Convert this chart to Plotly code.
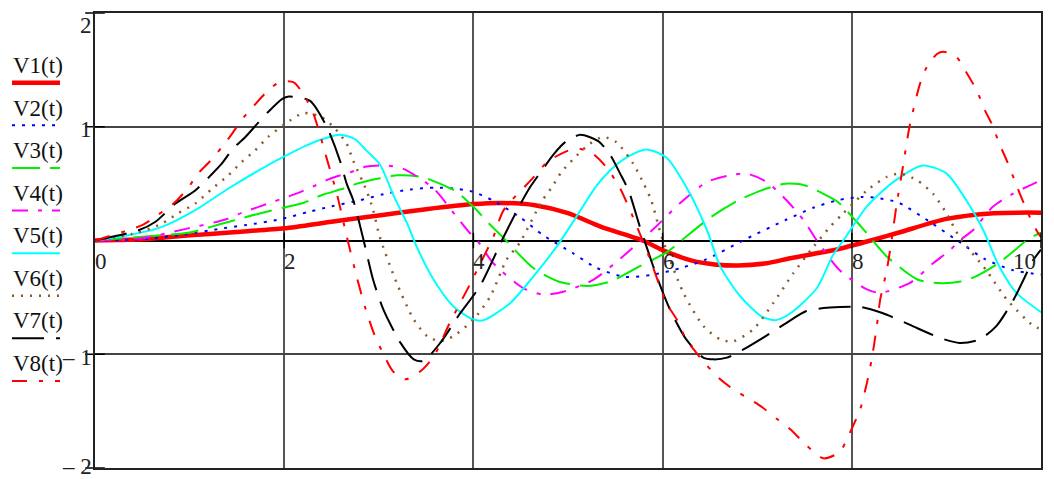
import plotly.graph_objects as go

t1 = [0, 0.5, 1, 1.5, 2, 2.5, 3, 3.5, 4, 4.3, 4.65, 5, 5.35, 5.79, 6.0, 6.3, 6.55, 6.8, 7.1, 7.35, 7.85, 8.2, 8.5,
      9, 9.5, 10]
v1 = [0, 0.01, 0.045, 0.075, 0.107, 0.165, 0.22, 0.275, 0.32, 0.33, 0.31, 0.24, 0.12, 0, -0.085, -0.175, -0.21,
      -0.22, -0.2, -0.156, -0.077, 0, 0.07, 0.19, 0.24, 0.245]

t2 = [0, 0.5, 0.9, 1.35, 1.6, 1.95, 2.25, 2.5, 2.8, 3.05, 3.33, 3.6, 3.8, 4.0, 4.2, 4.5, 4.74, 5.05, 5.3, 5.6,
      5.9, 6.2, 6.45, 6.85, 7.3, 7.6, 7.85, 8.1, 8.3, 8.5, 8.85, 9.15, 9.4, 9.7, 10]
v2 = [0, 0.01, 0.048, 0.107, 0.136, 0.185, 0.25, 0.30, 0.354, 0.407, 0.448, 0.465, 0.457, 0.427, 0.354, 0.2,
      0.045, -0.11, -0.24, -0.32, -0.30, -0.24, -0.17, 0.0, 0.18, 0.29, 0.354, 0.383, 0.37, 0.33, 0.15, -0.02,
      -0.16, -0.26, -0.3]

t3 = [0, 0.6, 1.0, 1.35, 1.55, 1.75, 2.0, 2.2, 2.4, 2.6, 2.77, 3.0, 3.2, 3.45, 3.6, 3.82, 4.0, 4.18, 4.31, 4.63,
      4.9, 5.2, 5.45, 5.75, 6.05, 6.2, 6.5, 6.8, 7.1, 7.3, 7.5, 7.7, 7.85, 8.1, 8.37, 8.7, 8.95, 9.15, 9.3, 9.55,
      9.88, 10]
v3 = [0, 0.04, 0.07, 0.15, 0.195, 0.24, 0.29, 0.33, 0.40, 0.45, 0.50, 0.545, 0.573, 0.56, 0.515, 0.43, 0.296,
      0.136, 0.03, -0.24, -0.36, -0.40, -0.36, -0.23, -0.1, 0.0, 0.2, 0.354, 0.457, 0.50, 0.486, 0.41, 0.34, 0.12,
      -0.14, -0.345, -0.375, -0.36, -0.32, -0.2, 0.02, 0.07]

t4 = [0, 0.5, 0.95, 1.38, 1.55, 1.73, 2.12, 2.31, 2.49, 2.7, 2.87, 3.08, 3.26, 3.58, 3.82, 3.95, 4.05, 4.21, 4.53,
      4.74, 4.95, 5.27, 5.58, 5.77, 5.94, 6.18, 6.47, 6.71, 6.89, 7.1, 7.31, 7.49, 7.63, 7.87, 8.16, 8.3, 8.61,
      8.86, 9.04, 9.14, 9.28, 9.49, 9.7, 10]
v4 = [0, 0.02, 0.1, 0.185, 0.243, 0.296, 0.41, 0.477, 0.545, 0.60, 0.65, 0.66, 0.63, 0.457, 0.21, 0.077, -0.01,
      -0.2, -0.42, -0.477, -0.45, -0.345, -0.14, 0, 0.13, 0.325, 0.515, 0.573, 0.588, 0.515, 0.354, 0.18, 0,
      -0.26, -0.43, -0.46, -0.375, -0.2, -0.083, 0, 0.09, 0.296, 0.41, 0.53]

t5 = [0, 0.36, 0.71, 1.06, 1.41, 1.76, 1.98, 2.22, 2.4, 2.59, 2.75, 2.87, 3.01, 3.17, 3.3, 3.4, 3.58, 3.79, 4.0,
      4.11, 4.39, 4.63, 4.88, 5.09, 5.3, 5.45, 5.62, 5.83, 6.04, 6.25, 6.47, 6.61, 6.82, 7.05, 7.2, 7.35, 7.63,
      7.8, 7.91, 8.16, 8.44, 8.75, 9.0, 9.21, 9.39, 9.56, 9.74, 10]
v5 = [0, 0.048, 0.12, 0.267, 0.457, 0.63, 0.73, 0.83, 0.89, 0.93, 0.89, 0.79, 0.67, 0.37, 0.15, -0.054, -0.345,
      -0.58, -0.695, -0.70, -0.55, -0.32, -0.054, 0.21, 0.48, 0.62, 0.73, 0.80, 0.73, 0.47, 0.09, -0.23, -0.49,
      -0.67, -0.70, -0.64, -0.42, -0.13, 0, 0.3, 0.515, 0.66, 0.59, 0.354, 0.09, -0.23, -0.46, -0.63]

t6 = [0, 0.46, 0.71, 0.88, 1.06, 1.24, 1.41, 1.55, 1.69, 1.83, 2.01, 2.2, 2.38, 2.52, 2.66, 2.73, 2.87, 2.94,
      3.01, 3.19, 3.37, 3.51, 3.65, 3.79, 4.0, 4.18, 4.35, 4.49, 4.72, 4.83, 4.93, 5.06, 5.23, 5.37, 5.51, 5.69,
      5.8, 5.88, 5.99, 6.22, 6.43, 6.61, 6.75, 6.96, 7.17, 7.38, 7.6, 7.77, 7.91, 8.16, 8.37, 8.51, 8.69, 8.86,
      9.0, 9.14, 9.42, 9.64, 9.92, 10]
v6 = [0, 0.07, 0.15, 0.24, 0.325, 0.457, 0.573, 0.69, 0.79, 0.91, 1.025, 1.12, 1.09, 1.0, 0.85, 0.70, 0.44,
      0.267, 0.033, -0.375, -0.695, -0.84, -0.885, -0.84, -0.695, -0.49, -0.17, -0.02, 0.34, 0.47, 0.60, 0.72,
      0.85, 0.91, 0.865, 0.675, 0.50, 0.354, 0.033, -0.46, -0.75, -0.87, -0.885, -0.78, -0.55, -0.29, -0.05,
      0.12, 0.24, 0.44, 0.56, 0.588, 0.53, 0.41, 0.24, 0.03, -0.26, -0.52, -0.75, -0.78]

t7 = [0, 0.46, 0.64, 0.85, 1.06, 1.22, 1.34, 1.46, 1.59, 1.73, 1.83, 1.98, 2.05, 2.27, 2.45, 2.59, 2.66, 2.73,
      2.84, 2.94, 3.05, 3.23, 3.37, 3.47, 3.65, 3.86, 4.07, 4.32, 4.49, 4.6, 4.71, 4.85, 4.97, 5.13, 5.32, 5.44,
      5.55, 5.64, 5.76, 5.83, 5.94, 6.08, 6.25, 6.43, 6.54, 6.68, 6.85, 7.06, 7.28, 7.52, 7.77, 8.09, 8.33, 8.61,
      8.93, 9.14, 9.35, 9.53, 9.71, 9.92, 10]
v7 = [0, 0.09, 0.165, 0.325, 0.44, 0.57, 0.675, 0.81, 0.91, 1.04, 1.13, 1.245, 1.265, 1.23, 1.0, 0.70, 0.50,
      0.354, 0.0, -0.345, -0.61, -0.9, -1.045, -1.06, -0.9, -0.64, -0.40, 0.033, 0.31, 0.47, 0.60, 0.76, 0.865,
      0.93, 0.873, 0.76, 0.59, 0.44, 0.12, -0.054, -0.32, -0.61, -0.87, -1.03, -1.045, -1.03, -0.96, -0.856,
      -0.74, -0.62, -0.59, -0.585, -0.64, -0.74, -0.856, -0.9, -0.87, -0.75, -0.52, -0.17, -0.08]

t8 = [0, 0.5, 0.65, 0.85, 0.99, 1.09, 1.22, 1.34, 1.45, 1.54, 1.68, 1.83, 1.96, 2.1, 2.2, 2.31, 2.45, 2.56, 2.66,
      2.77, 2.86, 2.95, 3.05, 3.15, 3.28, 3.44, 3.58, 3.75, 3.97, 4.11, 4.21, 4.32, 4.63, 4.78, 4.92, 5.08, 5.25,
      5.4, 5.55, 5.73, 5.87, 5.97, 6.04, 6.15, 6.25, 6.36, 6.47, 6.61, 6.75, 6.92, 7.06, 7.21, 7.35, 7.52, 7.7,
      7.87, 7.98, 8.09, 8.16, 8.21, 8.26, 8.3, 8.37, 8.42, 8.47, 8.54, 8.61, 8.72, 8.79, 8.9, 8.97, 9.11, 9.21,
      9.32, 9.41, 9.48, 9.56, 9.64, 9.72, 9.79, 9.88, 9.97, 10]
v8 = [0, 0.136, 0.217, 0.34, 0.47, 0.59, 0.70, 0.82, 0.94, 1.05, 1.185, 1.32, 1.395, 1.39, 1.29, 1.11, 0.72, 0.40,
      0.04, -0.33, -0.6, -0.82, -1.0, -1.15, -1.22, -1.15, -1.02, -0.725, -0.375, -0.14, 0.03, 0.267, 0.55, 0.69,
      0.76, 0.81, 0.77, 0.65, 0.46, 0.12, -0.17, -0.40, -0.55, -0.695, -0.87, -0.99, -1.10, -1.22, -1.31, -1.395,
      -1.47, -1.57, -1.66, -1.80, -1.915, -1.86, -1.69, -1.48, -1.25, -1.045, -0.78, -0.52, -0.26, 0, 0.296,
      0.646, 1.0, 1.375, 1.52, 1.64, 1.66, 1.61, 1.48, 1.32, 1.14, 1.025, 0.85, 0.70, 0.53, 0.383, 0.21, 0.063,
      0.03]

names = ['V1(t)', 'V2(t)', 'V3(t)', 'V4(t)', 'V5(t)', 'V6(t)', 'V7(t)', 'V8(t)']
x_ticks = [0, 2, 4, 6, 8, 10]
x_ticktext = ['0', '2', '4', '6', '8', '10']
y_ticks = [2, 1, -1, -2]
y_ticktext = ['2', '1', '\u2013 1', '\u2013 2']

series = [(t1, v1), (t2, v2), (t3, v3), (t4, v4), (t5, v5), (t6, v6), (t7, v7), (t8, v8)]
colors = ['#FF0000', '#0000FF', '#00F000', '#FF00FF', '#00FFFF', '#8B5A2B', '#000000', '#FF0000']
dashes = ['solid', '3px,7px', '28px,10px', '16px,10px,4px,10px', 'solid', '2px,7px', '32px,12px',
          '15px,12px,4px,12px']
widths = [4.5, 2, 2, 2, 2, 2.5, 2, 2]

FONT = 'Liberation Serif'

# the page body has an 8px margin, so the figure is made 8px smaller and margins reduced
OFF = 8
W_FIG, H_FIG = 1054 - OFF, 479 - OFF
ML, MR, MT, MB = 95 - OFF, 13, 11 - OFF, 11
PW, PH = W_FIG - ML - MR, H_FIG - MT - MB

fig = go.Figure()

for (t, v), name, c, d, w in zip(series, names, colors, dashes, widths):
    fig.add_trace(go.Scatter(x=t, y=v, mode='lines', name=name,
                             line=dict(color=c, dash=d, width=w, shape='spline', smoothing=0.7),
                             showlegend=False, hoverinfo='skip'))

# tick marks on the t axis and on the left axis
fig.add_trace(go.Scatter(x=x_ticks[1:], y=[0] * (len(x_ticks) - 1), mode='markers',
                         marker=dict(symbol='line-ns', size=11, line=dict(color='black', width=1.5)),
                         showlegend=False, hoverinfo='skip', cliponaxis=False))
fig.add_trace(go.Scatter(x=[0] * len(y_ticks), y=y_ticks, mode='markers',
                         marker=dict(symbol='line-ew', size=14, line=dict(color='black', width=1.5)),
                         showlegend=False, hoverinfo='skip', cliponaxis=False))

# tick labels
for xv, txt in zip(x_ticks, x_ticktext):
    if xv == x_ticks[-1]:
        fig.add_annotation(x=xv, y=0, text=txt, showarrow=False, xanchor='right', yanchor='middle',
                           xshift=-3, yshift=-21, font=dict(family=FONT, size=23, color='#222'))
    else:
        fig.add_annotation(x=xv, y=0, text=txt, showarrow=False, xanchor='left', yanchor='middle',
                           xshift=-2, yshift=-21, font=dict(family=FONT, size=23, color='#222'))
for yv, txt in zip(y_ticks, y_ticktext):
    if yv == y_ticks[0]:
        fig.add_annotation(xref='paper', x=0, y=yv, text=txt, showarrow=False, xanchor='right',
                           yanchor='top', xshift=-1, yshift=2, font=dict(family=FONT, size=23, color='#222'))
    else:
        ys = 2 if yv == y_ticks[-1] else -3
        fig.add_annotation(xref='paper', x=0, y=yv, text=txt, showarrow=False, xanchor='right',
                           yanchor='middle', xshift=-1, yshift=ys, font=dict(family=FONT, size=23, color='#222'))

# legend drawn as in the original: name above a line sample (positions in window pixels)
for i, (name, c, d, w) in enumerate(zip(names, colors, dashes, widths)):
    ty = 64 + 42.7 * i
    ly = 81 + 42.8 * i
    fig.add_annotation(xref='paper', yref='paper', x=(11 - 95) / PW, y=(468 - ty) / PH, text=name,
                       showarrow=False, xanchor='left', yanchor='middle',
                       font=dict(family=FONT, size=23, color='#111'))
    fig.add_shape(type='line', xref='paper', yref='paper', x0=(12 - 95) / PW, x1=(60 - 95) / PW,
                  y0=(468 - ly) / PH, y1=(468 - ly) / PH, line=dict(color=c, dash=d, width=w))

fig.update_layout(
    width=W_FIG, height=H_FIG,
    margin=dict(l=ML, r=MR, t=MT, b=MB),
    plot_bgcolor='white', paper_bgcolor='white',
    showlegend=False,
)
fig.update_xaxes(range=[0, 10], dtick=2, showgrid=True, gridcolor='#555', gridwidth=1.5,
                 zeroline=False, showticklabels=False, ticks='',
                 showline=True, mirror=True, linecolor='#222', linewidth=2)
fig.update_yaxes(range=[-2, 2], dtick=1, showgrid=True, gridcolor='#444', gridwidth=1.5,
                 zeroline=True, zerolinecolor='black', zerolinewidth=2, showticklabels=False, ticks='',
                 showline=True, mirror=True, linecolor='#222', linewidth=2)

fig.write_html("out.html")
